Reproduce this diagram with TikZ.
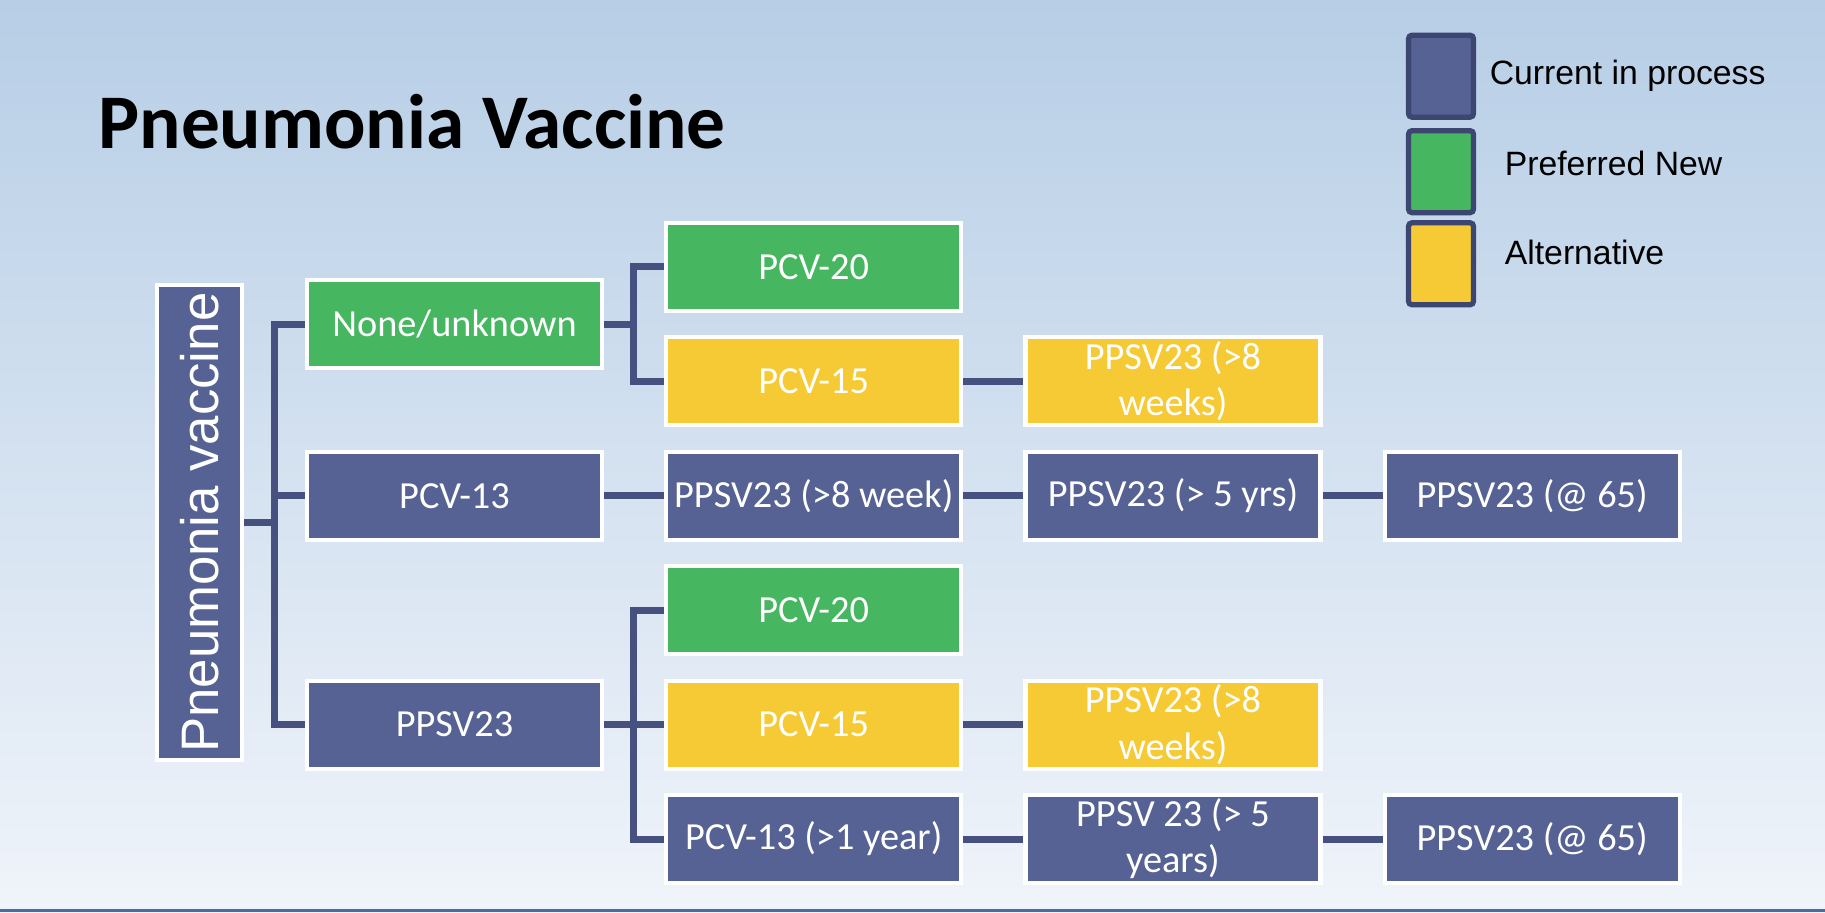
\documentclass[tikz,border=0pt]{standalone}
\usepackage{fontspec}
\setmainfont{Carlito}
\newfontfamily\legendfont{Liberation Sans}
\usetikzlibrary{positioning, calc, backgrounds}
\definecolor{navyfill}{RGB}{86,97,148}
\definecolor{greenfill}{RGB}{70,182,96}
\definecolor{yellowfill}{RGB}{245,202,52}
\definecolor{linkblue}{RGB}{70,81,128}
\definecolor{legedge}{RGB}{60,70,112}
\definecolor{bgtop}{RGB}{183,206,230}
\definecolor{bgbottom}{RGB}{240,244,250}
\definecolor{slideline}{RGB}{72,110,160}
\tikzset{
  stage/.style={
    rectangle, minimum width=2.95cm, minimum height=0.88cm, inner sep=1pt,
    text centered, align=center, draw=white, line width=1.2pt, text=white,
    font=\fontsize{10.9}{13.1}\selectfont
  },
  inprocess/.style={stage, fill=navyfill},
  preferred/.style={stage, fill=greenfill},
  alternative/.style={stage, fill=yellowfill},
  legbox/.style={
    rectangle, rounded corners=1pt, minimum width=0.65cm, minimum height=0.82cm,
    draw=legedge, line width=1.5pt
  },
  legtext/.style={anchor=west, inner sep=0pt, font=\legendfont\fontsize{9.6}{11}\selectfont},
  link/.style={line width=2pt, color=linkblue}
}

\begin{document}
\begin{tikzpicture}[node distance=0.222cm and 0.6cm]
\begin{scope}[on background layer]
  \shade[top color=bgtop, bottom color=bgbottom] (0,0) rectangle (18.25,9.12);
  \fill[slideline] (0,0) rectangle (18.25,0.035);
\end{scope}

\node[anchor=base west, font=\bfseries\fontsize{22}{26}\selectfont] (title) at (0.86,7.63) {Pneumonia Vaccine};

% legend
\node[legbox, fill=navyfill] (legcur) at (14.41,8.358) {};
\node[legbox, fill=greenfill] (legnew) at (14.41,7.403) {};
\node[legbox, fill=yellowfill] (legalt) at (14.41,6.482) {};
\node[legtext, right=0.13cm of legcur] (legcurtext) {Current in process};
\node[legtext, right=0.28cm of legnew, yshift=0.08cm] (legnewtext) {Preferred New};
\node[legtext, right=0.28cm of legalt, yshift=0.11cm] (legalttext) {Alternative};

% tree
\node[inprocess, minimum width=0.85cm, minimum height=4.75cm,
  font=\legendfont\fontsize{15}{18}\selectfont] (root) at (1.996,3.894) {\rotatebox{90}{Pneumonia vaccine}};
\node[inprocess] (pcv13) at (4.545,4.162) {PCV-13};
\node[inprocess, right=of pcv13] (ppsvweek) {PPSV23 (>8 week)};
\node[alternative, above=of ppsvweek] (pcv15a) {PCV-15};
\node[preferred, above=of pcv15a] (pcv20a) {PCV-20};
\node[preferred, below=of ppsvweek] (pcv20b) {PCV-20};
\node[alternative, below=of pcv20b] (pcv15b) {PCV-15};
\node[inprocess, below=of pcv15b] (pcv13year) {PCV-13 (>1 year)};
\coordinate (midA) at ($(pcv20a.west)!0.5!(pcv15a.west)$);
\node[preferred, left=of midA] (none) {None/unknown};
\node[inprocess, left=of pcv15b] (ppsv) {PPSV23};
\node[alternative, right=of pcv15a] (ppsvweeksa) {PPSV23 (>8\\weeks)};
\node[inprocess, right=of ppsvweek] (ppsvfive) {PPSV23 (> 5 yrs)};
\node[inprocess, right=of ppsvfive] (ppsvsenior) {PPSV23 (@ 65)};
\node[alternative, right=of pcv15b] (ppsvweeksb) {PPSV23 (>8\\weeks)};
\node[inprocess, right=of pcv13year] (ppsvfiveyears) {PPSV 23 (> 5\\years)};
\node[inprocess, right=of ppsvfiveyears] (ppsvseniorb) {PPSV23 (@ 65)};

\coordinate (trunk) at ($(root.east)+(0.303,0)$);
\coordinate (forka) at ($(none.east)+(0.29,0)$);
\coordinate (forkb) at ($(ppsv.east)+(0.29,0)$);

\begin{scope}[on background layer]
  \draw[link] (root.east) -- (trunk);
  \draw[link] (trunk) |- (none.west);
  \draw[link] (trunk) |- (pcv13.west);
  \draw[link] (trunk) |- (ppsv.west);
  \draw[link] (none.east) -- (forka);
  \draw[link] (forka) |- (pcv20a.west);
  \draw[link] (forka) |- (pcv15a.west);
  \draw[link] (ppsv.east) -- (forkb);
  \draw[link] (forkb) |- (pcv20b.west);
  \draw[link] (forkb) |- (pcv15b.west);
  \draw[link] (forkb) |- (pcv13year.west);
  \draw[link] (pcv13) -- (ppsvweek);
  \draw[link] (ppsvweek) -- (ppsvfive);
  \draw[link] (ppsvfive) -- (ppsvsenior);
  \draw[link] (pcv15a) -- (ppsvweeksa);
  \draw[link] (pcv15b) -- (ppsvweeksb);
  \draw[link] (pcv13year) -- (ppsvfiveyears);
  \draw[link] (ppsvfiveyears) -- (ppsvseniorb);
\end{scope}
\end{tikzpicture}
\end{document}
